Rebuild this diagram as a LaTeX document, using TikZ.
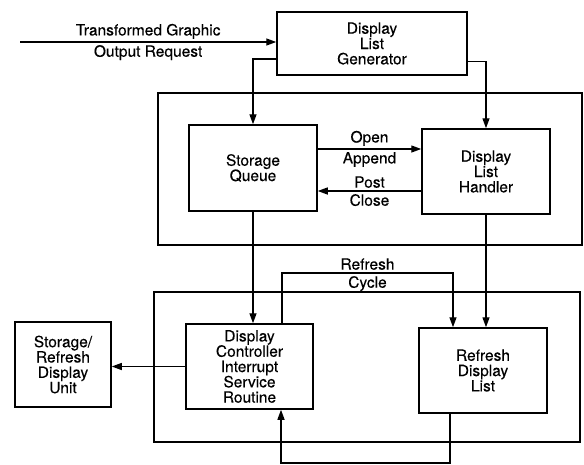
\documentclass[tikz,border=0pt]{standalone}
\usepackage{fontspec}
\setmainfont{TeX Gyre Heros}[FakeBold=0.2]
\usetikzlibrary{arrows.meta}
\begin{document}
\begin{tikzpicture}[x=1pt,y=-1pt,
  every node/.style={font=\fontsize{15.5}{15.3}\selectfont, align=center},
  box/.style={draw, line width=1.5pt, rectangle, inner sep=0pt},
  frame/.style={draw, line width=1.5pt, rectangle, inner sep=0pt},
  conn/.style={line width=1.3pt},
  arr/.style={conn, -{Triangle[length=10pt,width=7pt]}},
  lbl/.style={inner sep=2.5pt}
]
\useasboundingbox (0,0) rectangle (584,464);
% frames
\node[frame, minimum width=424pt, minimum height=152pt] (upper) at (370,169) {};
\node[frame, minimum width=426pt, minimum height=150pt] (lower) at (367,367) {};
% boxes
\node[box, minimum width=190pt, minimum height=63pt] (dlg) at (372,43.5) {Display\\List\\Generator};
\node[box, minimum width=128pt, minimum height=86pt] (sq) at (253,168) {Storage\\Queue};
\node[box, minimum width=128pt, minimum height=85pt] (dlh) at (486,171.5) {Display\\List\\Handler};
\node[box, minimum width=96pt, minimum height=85pt] (srdu) at (63,364.5) {Storage/\\Refresh\\Display\\Unit};
\node[box, minimum width=127pt, minimum height=85pt] (dc) at (249.5,366.5) {Display\\Controller\\Interrupt\\Service\\Routine};
\node[box, minimum width=128pt, minimum height=85pt] (rdl) at (483,370.5) {Refresh\\Display\\List};
% input
\coordinate (in) at (20,42);
\draw[arr] (in) -- (in -| dlg.west)
  node[midway, above, lbl] {Transformed Graphic}
  node[midway, below, lbl] {Output Request};
% generator outputs
\draw[arr] ([yshift=-15.5pt]dlg.west) -| (sq.north);
\draw[arr] ([yshift=-18pt]dlg.east) -| (dlh.north);
% queue <-> handler
\draw[arr] ([yshift=19pt]sq.east) -- ([yshift=19pt]sq.east -| dlh.west)
  node[midway, above, lbl] {Open}
  node[midway, below, lbl] {Append};
\draw[arr] ([yshift=-23pt]sq.east -| dlh.west) -- ([yshift=-23pt]sq.east)
  node[midway, above, lbl] {Post}
  node[midway, below, lbl] {Close};
% down to lower frame
\draw[arr] (sq.south) -- (sq.south |- dc.north);
\draw[arr] (dlh.south) -- (dlh.south |- rdl.north);
% controller to display unit
\draw[arr] (dc.west) -- (dc.west -| srdu.east);
% refresh cycle
\coordinate (rc1) at ([xshift=32.5pt]dc.north);
\coordinate (rc2) at ([xshift=-30pt]rdl.north);
\coordinate (rcA) at (rc1 |- 0,273);
\coordinate (rcB) at (rc2 |- 0,273);
\draw[arr] (rc1) -- (rcA) -- (rcB)
  node[midway, above, lbl] {Refresh}
  node[midway, below, lbl] {Cycle}
  -- (rc2);
% feedback
\coordinate (fb1) at ([xshift=-33pt]rdl.south);
\coordinate (fb2) at ([xshift=31.5pt]dc.south);
\coordinate (fbA) at (fb1 |- 0,463);
\draw[arr] (fb1) -- (fbA) -| (fb2);
\end{tikzpicture}
\end{document}
